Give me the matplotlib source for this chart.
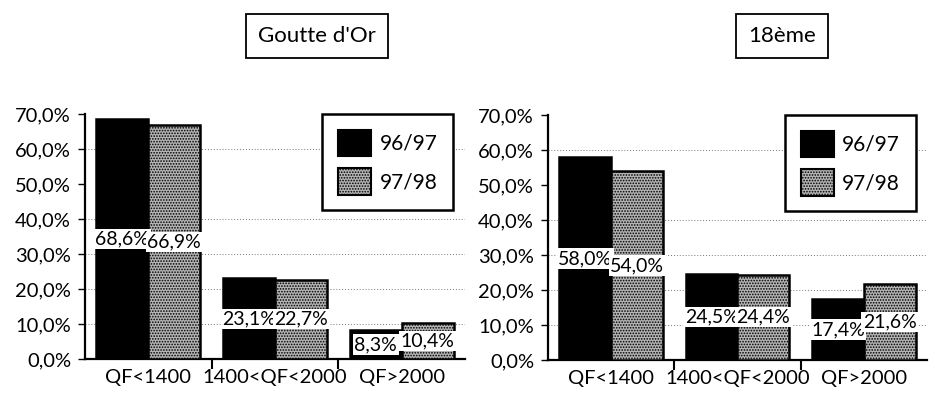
import matplotlib
matplotlib.use("Agg")
import matplotlib.pyplot as plt
import numpy as np
from matplotlib.patches import Patch

plt.rcParams["font.family"] = ["Lato", "DejaVu Sans"]
plt.rcParams["hatch.linewidth"] = 0.8

# ==========================
# Data
# ==========================
categories = ["QF<1400", "1400<QF<2000", "QF>2000"]
series = ["96/97", "97/98"]
goutte_9697 = [68.6, 23.1, 8.3]
goutte_9798 = [66.9, 22.7, 10.4]
dix8_9697 = [58.0, 24.5, 17.4]
dix8_9798 = [54.0, 24.4, 21.6]
panel_titles = ["Goutte d'Or", "18ème"]

W, H = 937, 393
grid_levels = [10, 20, 30, 40, 60]
GRAY = "#b4b4b4"


def fmt(v):
    return f"{v:.1f}%".replace(".", ",")


def draw_panel(ax, v1, v2):
    x = np.arange(len(categories))
    w = 0.41
    ax.bar(x - w / 2, v1, width=w, color="black", edgecolor="black",
           linewidth=1.8, zorder=3)
    ax.bar(x + w / 2, v2, width=w, color=GRAY, edgecolor="black",
           hatch="......", linewidth=1.8, zorder=3)
    for xi, a, b in zip(x, v1, v2):
        for xx, v in ((xi - w / 2, a), (xi + w / 2, b)):
            ax.text(xx, v / 2, fmt(v), ha="center", va="center", fontsize=14,
                    zorder=5,
                    bbox=dict(boxstyle="square,pad=0.08", facecolor="white",
                              edgecolor="none"))
    for g in grid_levels:
        ax.axhline(g, color="#777777", linestyle=(0, (1, 2)), linewidth=0.7,
                   zorder=1)

    ax.set_xlim(-0.5, 2.5)
    ax.set_ylim(0, 70)
    ax.set_yticks(np.arange(0, 71, 10))
    ax.set_yticklabels([fmt(t) for t in np.arange(0, 71, 10)], fontsize=14.5)
    ax.set_xticks([0.5, 1.5])
    ax.set_xticklabels([])
    ax.set_xticks(x, minor=True)
    ax.set_xticklabels(categories, minor=True, fontsize=14.5)
    ax.tick_params(axis="x", which="minor", length=0, pad=7)
    ax.tick_params(axis="x", which="major", length=7, width=1.5,
                   direction="out")
    ax.tick_params(axis="y", length=5, width=1, direction="out", pad=5)
    for s in ("top", "right"):
        ax.spines[s].set_visible(False)
    for s in ("left", "bottom"):
        ax.spines[s].set_linewidth(1.6)

    handles = [
        Patch(facecolor="black", edgecolor="black", linewidth=1.5,
              label=series[0]),
        Patch(facecolor=GRAY, edgecolor="black", hatch="......",
              linewidth=1.5, label=series[1]),
    ]
    leg = ax.legend(handles=handles, loc="upper left",
                    bbox_to_anchor=(0.625, 1.0), borderaxespad=0,
                    fontsize=15, handlelength=1.6, handleheight=1.6,
                    labelspacing=0.55, borderpad=0.75, handletextpad=0.4,
                    fancybox=False, framealpha=1, edgecolor="black")
    leg.get_frame().set_linewidth(1.8)
    leg.set_zorder(6)


fig = plt.figure(figsize=(W / 100, H / 100), dpi=100)

ax1 = fig.add_axes([85 / W, 34 / H, 380 / W, 245 / H])
ax2 = fig.add_axes([548 / W, 33 / H, 379 / W, 245 / H])

draw_panel(ax1, goutte_9697, goutte_9798)
draw_panel(ax2, dix8_9697, dix8_9798)

for cx, t in ((317, panel_titles[0]), (782, panel_titles[1])):
    fig.text(cx / W, 1 - 36 / H, t, ha="center", va="center", fontsize=16,
             bbox=dict(boxstyle="square,pad=0.55", facecolor="white",
                       edgecolor="black", linewidth=1.3))

fig.savefig("out.png", dpi=100)
